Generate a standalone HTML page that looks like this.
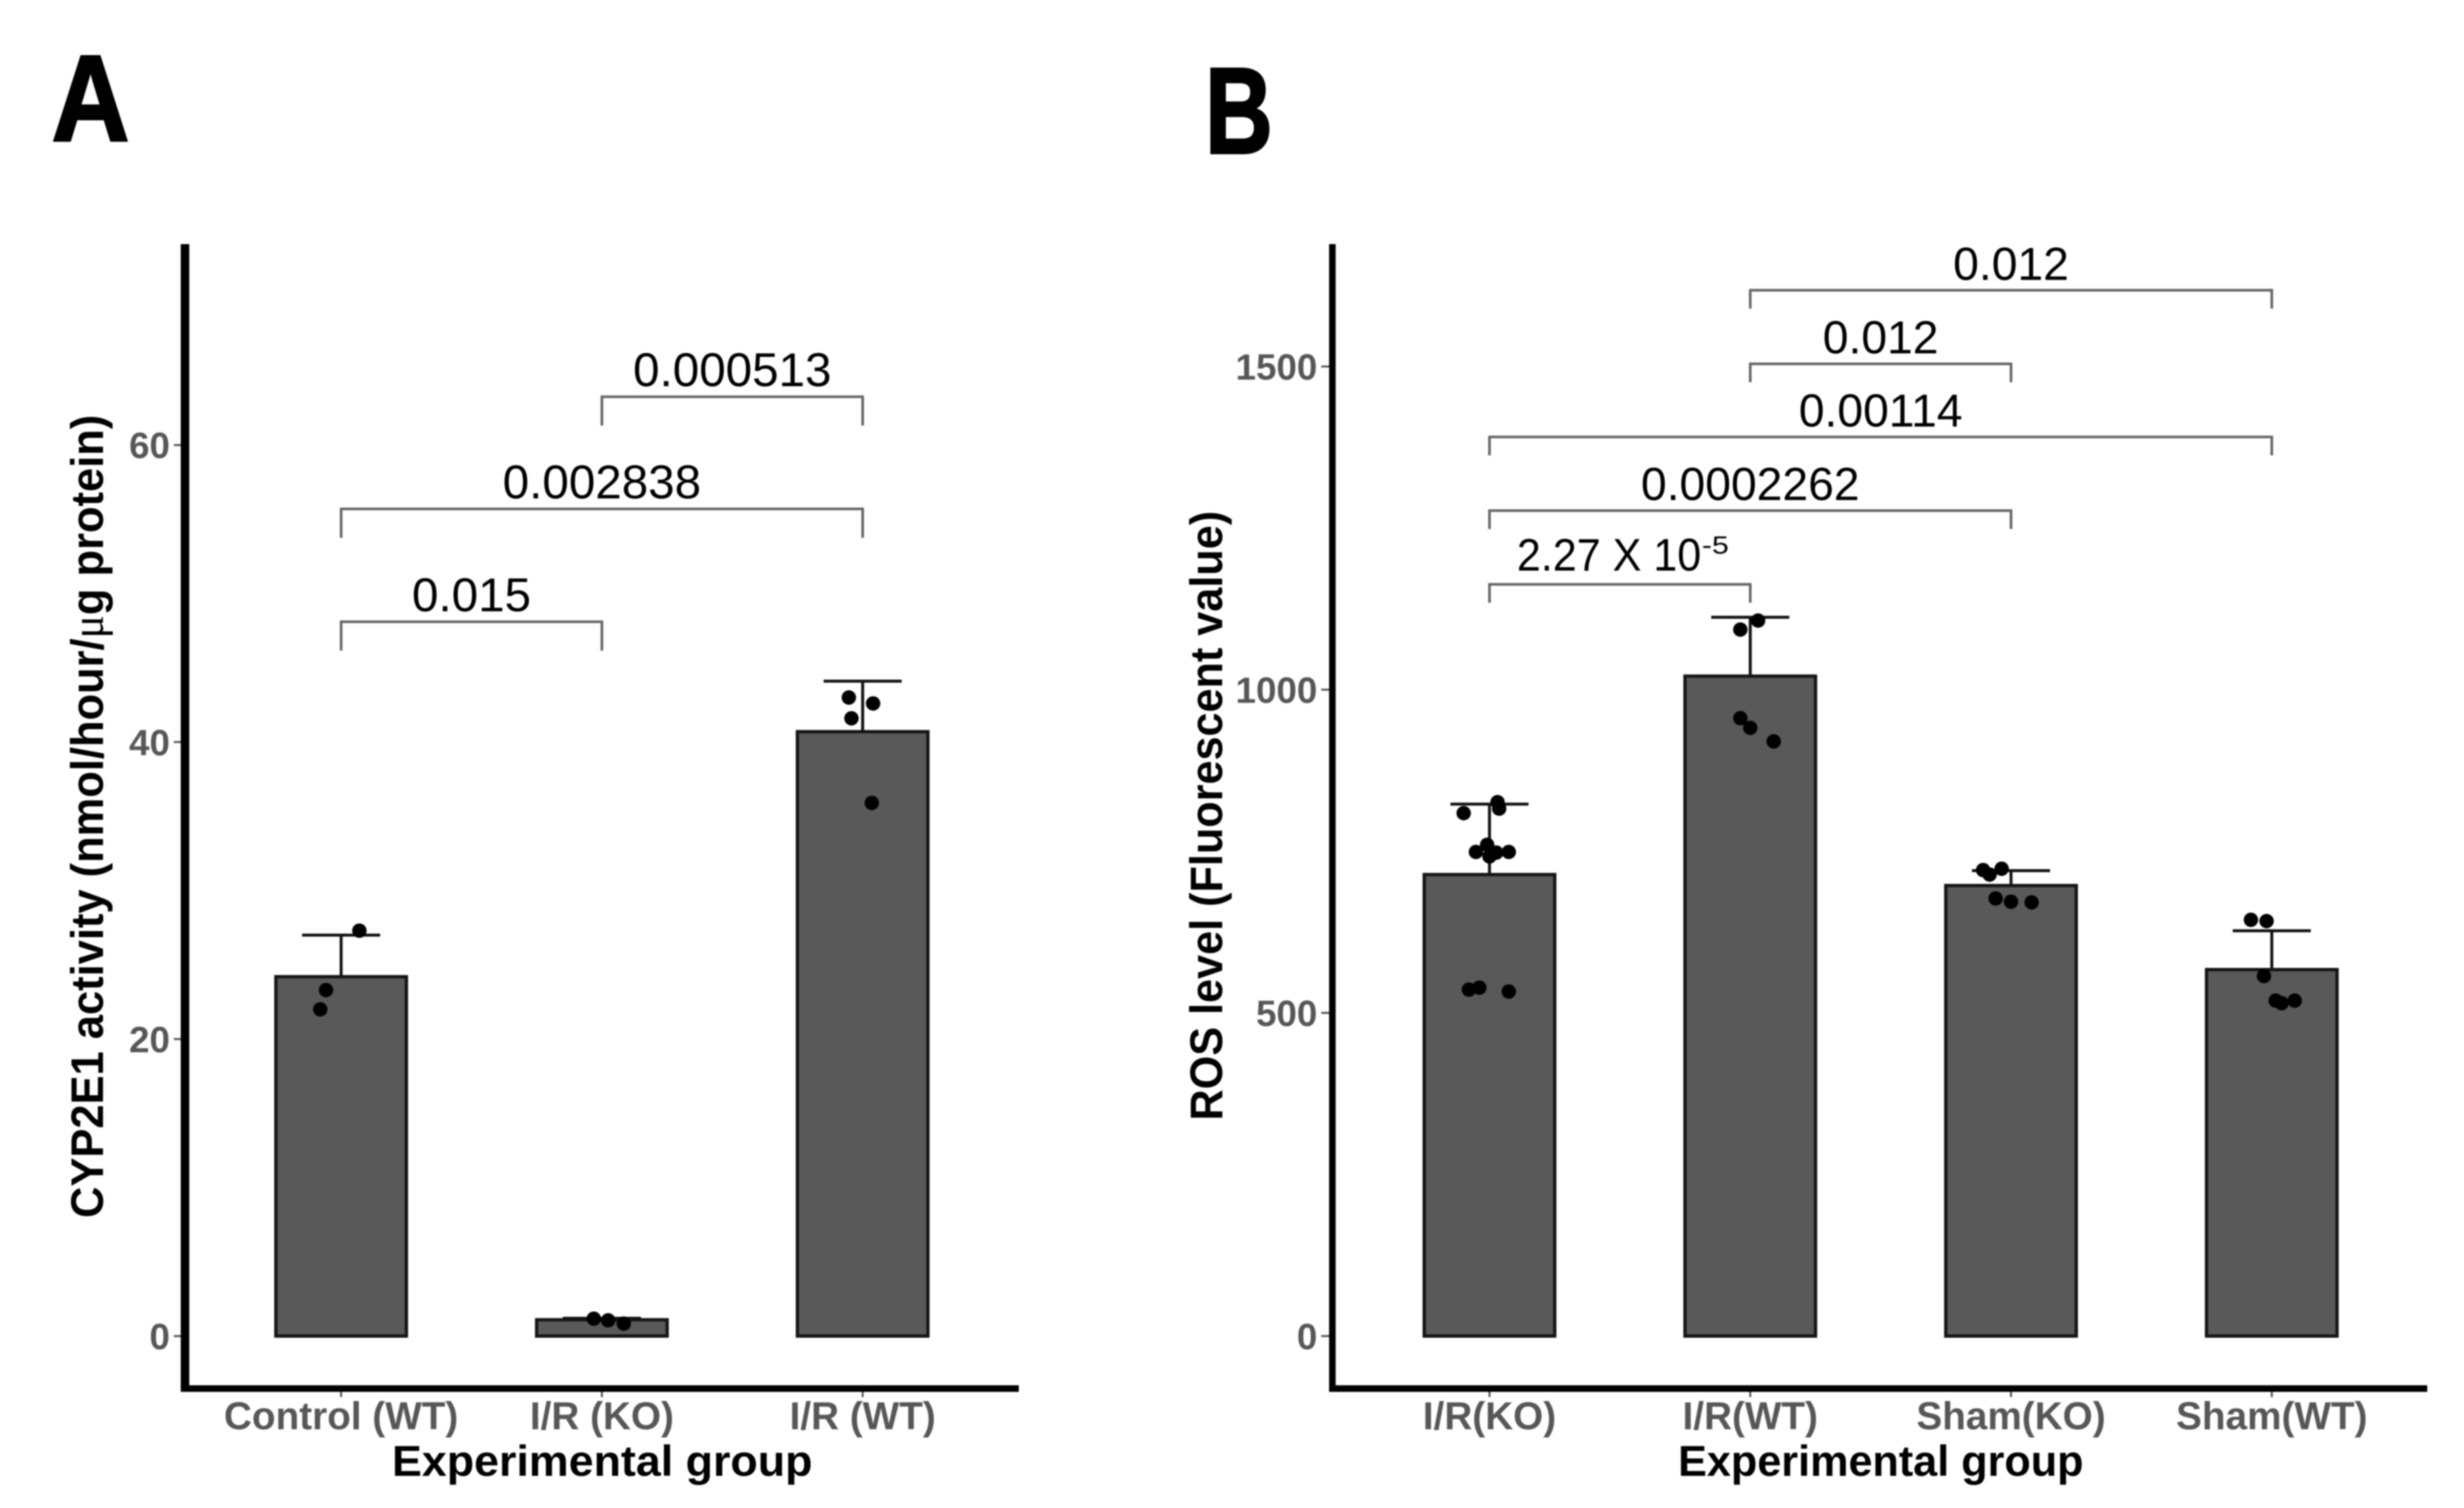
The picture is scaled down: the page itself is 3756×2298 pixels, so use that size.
<!DOCTYPE html>
<html lang="en">
<head>
<meta charset="utf-8">
<title>CYP2E1 activity and ROS level bar charts</title>
<style>
html,body{margin:0;padding:0;background:#fff;}
svg{display:block;filter:blur(1.1px);}
text{font-family:"Liberation Sans",sans-serif;}
</style>
</head>
<body>
<svg id="fig" xmlns="http://www.w3.org/2000/svg" width="3756" height="2298" viewBox="0 0 3756 2298">
  <rect x="0" y="0" width="3756" height="2298" fill="#fff"/>
  <g id="panelA">
    <text x="79" y="214" font-size="186" font-weight="700" fill="#000" stroke="#000" stroke-width="4" textLength="118" lengthAdjust="spacingAndGlyphs">A</text>
    <text transform="translate(157,1244) rotate(-90)" text-anchor="middle" font-size="70" font-weight="700" fill="#000" textLength="1224" lengthAdjust="spacingAndGlyphs">CYP2E1 activity (nmol/hour/<tspan font-family="Liberation Serif" font-weight="400">μ</tspan>g protein)</text>
    <text x="918" y="2249" text-anchor="middle" font-size="66" font-weight="700" fill="#000" textLength="641" lengthAdjust="spacingAndGlyphs">Experimental group</text>
  </g>
  <g id="panelB">
    <text x="1837" y="233" font-size="186" font-weight="700" fill="#000" stroke="#000" stroke-width="4" textLength="103" lengthAdjust="spacingAndGlyphs">B</text>
    <text transform="translate(1863,1243) rotate(-90)" text-anchor="middle" font-size="70" font-weight="700" fill="#000" textLength="929" lengthAdjust="spacingAndGlyphs">ROS level (Fluorescent value)</text>
    <text x="2867" y="2249" text-anchor="middle" font-size="66" font-weight="700" fill="#000" textLength="618" lengthAdjust="spacingAndGlyphs">Experimental group</text>
  </g>
</svg>
<script>
// Panel A data
const aCategories = ['Control (WT)', 'I/R (KO)', 'I/R (WT)'];
const aMeans = [24.2, 1.1, 40.7];
const aErrorTops = [27.0, 1.2, 44.1];
const aTicks = [0, 20, 40, 60];
const aPointGroups = [0, 0, 0, 1, 1, 1, 2, 2, 2, 2];
const aPointValues = [27.3, 23.3, 22.0, 1.17, 1.06, 0.84, 43.0, 42.6, 41.6, 35.9];
const aPointJitter = [0.07, -0.058, -0.08, -0.031, 0.024, 0.084, -0.053, 0.04, -0.043, 0.035];
const aBracketFrom = [1, 0, 0];
const aBracketTo = [2, 2, 1];
const aBracketLevels = [63.25, 55.7, 48.1];
const aBracketLabels = ['0.000513', '0.002838', '0.015'];
const aBracketSups = ['', '', ''];

// Panel B data
const bCategories = ['I/R(KO)', 'I/R(WT)', 'Sham(KO)', 'Sham(WT)'];
const bMeans = [714, 1021, 697, 567];
const bErrorTops = [823, 1112, 720, 627];
const bTicks = [0, 500, 1000, 1500];
const bPointGroups = [0, 0, 0, 0, 0, 0, 0, 0, 0, 0, 0, 1, 1, 1, 1, 1, 2, 2, 2, 2, 2, 2, 3, 3, 3, 3, 3, 3];
const bPointValues = [826, 816, 809, 760, 749, 742, 748, 749, 536, 539, 533, 1107, 1093, 956, 941, 920, 723, 714, 721, 677, 672, 671, 644, 642, 557, 519, 515, 519];
const bPointJitter = [0.031, 0.037, -0.099, -0.009, -0.052, 0, 0.026, 0.074, -0.079, -0.039, 0.074, 0.03, -0.038, -0.038, 0, 0.09, -0.036, -0.082, -0.107, -0.059, 0, 0.079, -0.08, -0.02, -0.03, 0.015, 0.038, 0.088];
const bBracketFrom = [1, 1, 0, 0, 0];
const bBracketTo = [3, 2, 3, 2, 1];
const bBracketLevels = [1618, 1504, 1391, 1277, 1163];
const bBracketLabels = ['0.012', '0.012', '0.00114', '0.0002262', '2.27 X 10'];
const bBracketSups = ['', '', '', '', '-5'];

const NS = 'http://www.w3.org/2000/svg';

function make(tag, attrs, parent) {
  const node = document.createElementNS(NS, tag);
  for (const key in attrs) node.setAttribute(key, attrs[key]);
  parent.appendChild(node);
  return node;
}

function drawPanel(root, cfg) {
  const x = function (i) { return cfg.x0 + i * cfg.step; };
  const y = function (v) { return cfg.yZero - v * cfg.yScale; };
  const barW = 199, capW = 119;

  // y axis ticks and labels
  cfg.ticks.forEach(function (t) {
    const tick = make('line', { x1: cfg.axisX - 17, x2: cfg.axisX, y1: y(t), y2: y(t), stroke: '#555', 'stroke-width': 3 }, root);
    
    
    const lab = make('text', { x: cfg.axisX - 23, y: y(t) + 20, 'text-anchor': 'end', 'font-size': 56, 'font-weight': 700, fill: '#575757' }, root);
    
    
    lab.textContent = String(t);
  });

  // bars and error bars
  cfg.categories.forEach(function (c, i) {
    const err = make('line', { x1: x(i), x2: x(i), y1: y(cfg.means[i]), y2: y(cfg.errorTops[i]), stroke: '#111', 'stroke-width': 4.5 }, root);
    
    
    const cap = make('line', { x1: x(i) - capW / 2, x2: x(i) + capW / 2, y1: y(cfg.errorTops[i]), y2: y(cfg.errorTops[i]), stroke: '#111', 'stroke-width': 4.5 }, root);
    
    
    const bar = make('rect', { x: x(i) - barW / 2, y: y(cfg.means[i]), width: barW, height: y(0) - y(cfg.means[i]), fill: '#595959', stroke: '#151515', 'stroke-width': 5 }, root);
    
    
    const tick = make('line', { x1: x(i), x2: x(i), y1: cfg.axisY, y2: cfg.axisY + 13, stroke: '#555', 'stroke-width': 3 }, root);
    
    
    const lab = make('text', { x: x(i), y: 2178, 'text-anchor': 'middle', 'font-size': 59, 'font-weight': 700, fill: '#575757' }, root);
    
    
    lab.textContent = c;
  });

  // data points
  cfg.pointValues.forEach(function (v, k) {
    const dot = make('circle', { cx: x(cfg.pointGroups[k] + cfg.pointJitter[k]), cy: y(v), r: 11, fill: '#000' }, root);
    
    
  });

  // significance brackets
  cfg.bracketLevels.forEach(function (level, k) {
    const xa = x(cfg.bracketFrom[k]), xb = x(cfg.bracketTo[k]), yy = y(level);
    const br = make('polyline', { points: xa + ',' + (yy + cfg.tip) + ' ' + xa + ',' + yy + ' ' + xb + ',' + yy + ' ' + xb + ',' + (yy + cfg.tip), fill: 'none', stroke: '#666', 'stroke-width': 4 }, root);
    
    
    const cx = (xa + xb) / 2;
    const hasSup = cfg.bracketSups[k] !== '';
    const lab = make('text', { x: hasSup ? cx + 124 : cx, y: yy - (hasSup ? 21 : 16), 'text-anchor': hasSup ? 'end' : 'middle', 'font-size': hasSup ? 70 : cfg.labelFont, fill: '#000' }, root);
    
    
    lab.textContent = cfg.bracketLabels[k];
    if (hasSup) {
      lab.setAttribute('textLength', 281);
      lab.setAttribute('lengthAdjust', 'spacingAndGlyphs');
      const sup = make('text', { x: cx + 125, y: yy - 47, 'font-size': 38, fill: '#000', textLength: 41, lengthAdjust: 'spacingAndGlyphs' }, root);
      
      
      sup.textContent = cfg.bracketSups[k];
    }
  });

  // axis lines
  const yAxis = make('line', { x1: cfg.axisX, x2: cfg.axisX, y1: 372, y2: cfg.axisY + 5, stroke: '#000', 'stroke-width': cfg.axisLeftW }, root);
  
  
  const xAxis = make('line', { x1: cfg.axisX - cfg.axisLeftW / 2, x2: cfg.axisEnd, y1: cfg.axisY, y2: cfg.axisY, stroke: '#000', 'stroke-width': 10 }, root);
  
  
}

drawPanel(document.getElementById('panelA'), {
  x0: 520, step: 397.5, yZero: 2036, yScale: 22.63, axisX: 282, axisY: 2116, axisEnd: 1553, axisLeftW: 13, tip: 44, labelFont: 72.5,
  categories: aCategories, means: aMeans, errorTops: aErrorTops, ticks: aTicks,
  pointGroups: aPointGroups, pointValues: aPointValues, pointJitter: aPointJitter,
  bracketFrom: aBracketFrom, bracketTo: aBracketTo, bracketLevels: aBracketLevels,
  bracketLabels: aBracketLabels, bracketSups: aBracketSups
});

drawPanel(document.getElementById('panelB'), {
  x0: 2270.5, step: 397.5, yZero: 2036, yScale: 0.985, axisX: 2031, axisY: 2116, axisEnd: 3700, axisLeftW: 10, tip: 28, labelFont: 70.5,
  categories: bCategories, means: bMeans, errorTops: bErrorTops, ticks: bTicks,
  pointGroups: bPointGroups, pointValues: bPointValues, pointJitter: bPointJitter,
  bracketFrom: bBracketFrom, bracketTo: bBracketTo, bracketLevels: bBracketLevels,
  bracketLabels: bBracketLabels, bracketSups: bBracketSups
});
</script>
</body>
</html>
